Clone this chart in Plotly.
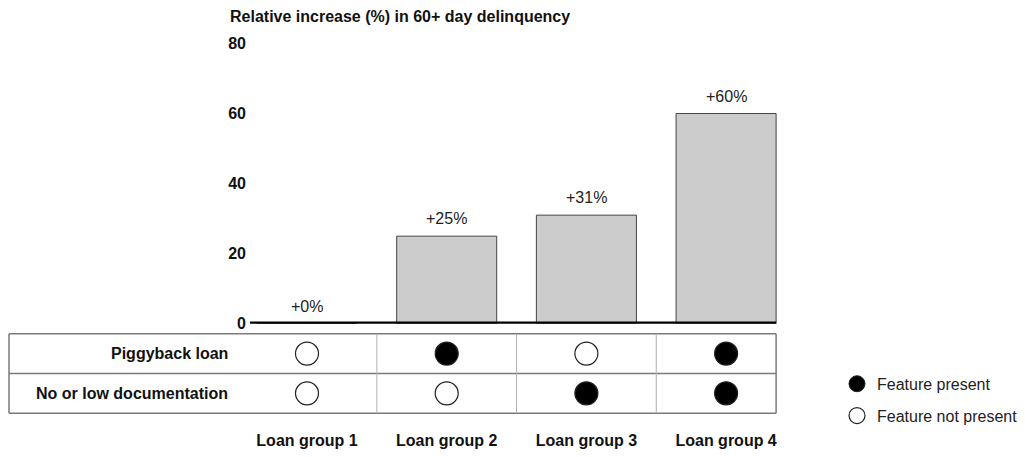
import plotly.graph_objects as go

# ---- data ----
groups = ["Loan group 1", "Loan group 2", "Loan group 3", "Loan group 4"]
increase = [0, 25, 31, 60]
features = ["Piggyback loan", "No or low documentation"]
piggyback = [0, 1, 0, 1]
low_doc = [0, 0, 1, 1]
y_ticks = [0, 20, 40, 60, 80]

W, H = 1025, 457
FONT = "Liberation Sans, Arial, Helvetica, sans-serif"
FS = 16

# helpers converting screen pixel positions into paper fractions
OFF_X, OFF_Y, HR = 8, 14.4, 442.6
def px(X):
    return (X - OFF_X) / W
def py(Y):
    return 1 - (Y - OFF_Y) / HR

xpos = [i + 1 for i in range(len(groups))]
bar_w = 0.716
unit = 139.7                      # px per category
c1 = 307 - OFF_X                  # group-1 centre in figure px
x_dom0 = (250 - OFF_X) / W
x_left = 1 - (c1 - (250 - OFF_X)) / unit
x_right = 1 + (W - c1) / unit

fig = go.Figure()

fig.add_trace(go.Bar(
    x=xpos, y=increase, width=bar_w,
    marker=dict(color="#cccccc", line=dict(color="#444444", width=1)),
    showlegend=False, hoverinfo="skip", xaxis="x", yaxis="y",
))

for i, v in enumerate(increase):
    fig.add_annotation(x=xpos[i], y=v, xref="x", yref="y", text=f"+{v}%",
                       showarrow=False, yanchor="bottom", yshift=7,
                       font=dict(family=FONT, size=FS, color="#222"))

# feature table markers
rows = [(features[0], piggyback), (features[1], low_doc)]
nrows = len(rows)
for r, (name, vals) in enumerate(rows):
    yv = nrows - r - 0.5
    fig.add_trace(go.Scatter(
        x=xpos, y=[yv] * len(vals), mode="markers",
        marker=dict(size=23, symbol="circle",
                    color=["black" if v else "white" for v in vals],
                    line=dict(color="#222", width=1.2)),
        showlegend=False, hoverinfo="skip", xaxis="x", yaxis="y2",
    ))
    fig.add_annotation(x=px(230), y=yv, xref="paper", yref="y2", text=f"<b>{name}</b>",
                       showarrow=False, xanchor="right",
                       font=dict(family=FONT, size=FS, color="#111"))

# legend traces
fig.add_trace(go.Scatter(x=[None], y=[None], mode="markers", name="Feature present",
                         marker=dict(size=22, color="black", line=dict(color="#222", width=1)),
                         xaxis="x", yaxis="y2", legendgroup="a"))
fig.add_trace(go.Scatter(x=[None], y=[None], mode="markers", name="Feature not present",
                         marker=dict(size=22, color="white", line=dict(color="#222", width=1.2)),
                         xaxis="x", yaxis="y2", legendgroup="b"))

shapes = []
tbl_x0 = px(9)
tbl_x1 = xpos[-1] + bar_w / 2
tbl_x1_paper = (c1 + (tbl_x1 - 1) * unit) / W
line_c = "#7a7a7a"
shapes.append(dict(type="line", xref="paper", yref="y2 domain", x0=tbl_x0, x1=tbl_x0, y0=0, y1=1,
                   line=dict(color=line_c, width=1.5)))
shapes.append(dict(type="line", xref="x", yref="y2 domain", x0=tbl_x1, x1=tbl_x1, y0=0, y1=1,
                   line=dict(color=line_c, width=1.5)))
for yy in [0, 0.5, 1]:
    shapes.append(dict(type="line", xref="paper", yref="y2 domain", x0=tbl_x0, x1=tbl_x1_paper,
                       y0=yy, y1=yy, line=dict(color=line_c, width=1.5)))
for i in range(len(groups)):
    xd = xpos[i] - 0.5
    shapes.append(dict(type="line", xref="x", yref="y2 domain", x0=xd, x1=xd, y0=0, y1=1,
                       line=dict(color="#b0b0b0", width=1)))
# baseline
shapes.append(dict(type="line", xref="x", yref="y", x0=x_left, x1=tbl_x1, y0=0, y1=0,
                   line=dict(color="black", width=4.5)))

fig.add_annotation(x=px(228), y=py(15), xref="paper", yref="paper",
                   text="<b>Relative increase (%) in 60+ day delinquency</b>", showarrow=False,
                   xanchor="left", yanchor="middle", font=dict(family=FONT, size=FS, color="#111"))

fig.update_layout(
    width=W, height=H, margin=dict(l=0, r=0, t=0, b=0),
    paper_bgcolor="white", plot_bgcolor="white",
    font=dict(family=FONT, size=FS, color="#111"),
    shapes=shapes,
    xaxis=dict(domain=[x_dom0, 1], range=[x_left, x_right], anchor="y2",
               tickvals=xpos, ticktext=[f"<b>{g}</b>" for g in groups],
               showgrid=False, zeroline=False, showline=False, ticks="",
               ticklabelstandoff=16, tickfont=dict(family=FONT, size=FS, color="#111")),
    yaxis=dict(domain=[py(324), py(42)], range=[0, 80], anchor="x",
               tickvals=y_ticks, ticktext=[f"<b>{t}</b>" for t in y_ticks],
               showgrid=False, zeroline=False, showline=False, ticks="",
               ticklabelstandoff=3, tickfont=dict(family=FONT, size=FS, color="#111")),
    yaxis2=dict(domain=[py(414), py(334)], range=[0, nrows], anchor="x",
                showgrid=False, zeroline=False, showline=False, showticklabels=False, ticks=""),
    legend=dict(x=px(837), y=py(400.5), xanchor="left", yanchor="middle",
                font=dict(family=FONT, size=FS, color="#222"), tracegroupgap=8,
                itemsizing="trace", bgcolor="rgba(0,0,0,0)"),
)

fig.write_html("out.html")
